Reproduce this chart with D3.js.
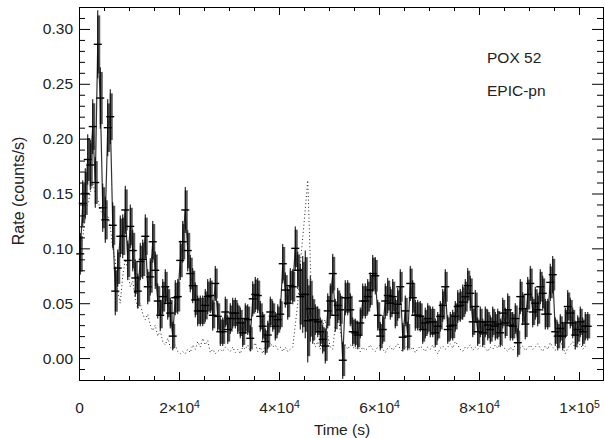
<!DOCTYPE html>
<html><head><meta charset="utf-8">
<script src="https://cdn.jsdelivr.net/npm/d3@7"></script>
<style>
html,body{margin:0;padding:0;background:#fff;}
svg{display:block;}
text{font-family:"Liberation Sans",Arial,Helvetica,sans-serif;fill:#222;}
</style></head><body>
<svg id="chart" width="605" height="438"></svg>
<script>
// ---- data ----
const binStart = 250, binSize = 500;   // time bins (s)
const rate = [
0.095,0.141,0.150,0.181,0.176,0.211,0.160,0.286,0.237,0.137,
0.126,0.210,0.220,0.121,0.061,0.082,0.111,0.111,0.135,0.089,
0.120,0.098,0.073,0.061,0.088,0.090,0.111,0.065,0.074,0.106,
0.080,0.052,0.039,0.056,0.065,0.050,0.041,0.020,0.055,0.056,
0.089,0.106,0.135,0.098,0.077,0.066,0.053,0.043,0.043,0.043,
0.048,0.056,0.057,0.039,0.068,0.038,0.024,0.024,0.042,0.026,
0.036,0.041,0.041,0.036,0.032,0.023,0.036,0.035,0.018,0.054,
0.058,0.057,0.038,0.029,0.015,0.021,0.042,0.038,0.029,0.035,
0.040,0.086,0.062,0.050,0.066,0.065,0.100,0.080,0.056,0.058,
0.058,0.034,0.045,0.035,0.035,0.033,0.024,0.017,0.011,0.043,
0.052,0.077,0.039,0.048,0.044,-0.002,0.055,0.055,0.044,0.024,
0.023,0.021,0.032,0.052,0.052,0.056,0.062,0.077,0.075,0.039,
0.020,0.026,0.052,0.057,0.050,0.056,0.041,0.049,0.065,0.019,
0.043,0.020,0.068,0.055,0.039,0.039,0.038,0.026,0.032,0.036,
0.033,0.033,0.023,0.029,0.038,0.048,0.065,0.026,0.029,0.030,
0.038,0.047,0.048,0.051,0.056,0.066,0.059,0.033,0.047,0.024,
0.033,0.023,0.033,0.030,0.026,0.033,0.029,0.031,0.023,0.041,
0.032,0.044,0.030,0.029,0.036,0.014,0.056,0.045,0.031,0.058,
0.068,0.042,0.050,0.044,0.065,0.059,0.040,0.040,0.069,0.076,
0.024,0.020,0.027,0.020,0.032,0.047,0.041,0.032,0.021,0.026,
0.033,0.024,0.029,0.029];
const rateErr = [
0.019,0.021,0.023,0.023,0.023,0.025,0.023,0.031,0.028,0.022,
0.021,0.026,0.025,0.021,0.022,0.017,0.019,0.020,0.022,0.018,
0.020,0.019,0.017,0.016,0.017,0.018,0.020,0.016,0.017,0.019,
0.017,0.016,0.014,0.016,0.016,0.015,0.014,0.013,0.016,0.016,
0.018,0.019,0.021,0.019,0.017,0.016,0.016,0.014,0.014,0.014,
0.015,0.016,0.016,0.014,0.016,0.014,0.013,0.013,0.014,0.013,
0.014,0.014,0.014,0.014,0.014,0.013,0.014,0.014,0.012,0.016,
0.016,0.016,0.014,0.013,0.012,0.013,0.014,0.014,0.013,0.014,
0.014,0.018,0.016,0.015,0.016,0.016,0.020,0.017,0.030,0.035,
0.040,0.038,0.030,0.022,0.014,0.014,0.013,0.013,0.016,0.016,
0.016,0.018,0.015,0.016,0.015,0.017,0.016,0.016,0.015,0.013,
0.013,0.013,0.014,0.016,0.016,0.016,0.016,0.017,0.017,0.014,
0.013,0.013,0.016,0.016,0.015,0.016,0.014,0.015,0.016,0.013,
0.014,0.013,0.016,0.016,0.014,0.014,0.014,0.013,0.014,0.014,
0.014,0.014,0.013,0.013,0.014,0.015,0.016,0.013,0.013,0.014,
0.014,0.015,0.015,0.016,0.016,0.016,0.016,0.014,0.015,0.013,
0.014,0.013,0.014,0.014,0.013,0.014,0.013,0.014,0.013,0.014,
0.014,0.015,0.014,0.013,0.014,0.013,0.016,0.015,0.014,0.016,
0.016,0.014,0.015,0.015,0.016,0.016,0.014,0.014,0.017,0.017,
0.013,0.013,0.013,0.013,0.014,0.015,0.014,0.014,0.013,0.013,
0.014,0.013,0.013,0.013];
const background = [
0.090,0.110,0.130,0.140,0.150,0.160,0.150,0.145,0.135,0.130,
0.125,0.130,0.120,0.100,0.090,0.060,0.050,0.075,0.090,0.080,
0.065,0.070,0.055,0.045,0.050,0.040,0.035,0.040,0.030,0.025,
0.030,0.020,0.025,0.015,0.012,0.018,0.010,0.008,0.012,0.006,
0.004,0.006,0.004,0.008,0.005,0.012,0.008,0.015,0.010,0.018,
0.012,0.016,0.005,0.008,0.004,0.006,0.008,0.006,0.010,0.008,
0.006,0.010,0.005,0.008,0.004,0.010,0.008,0.012,0.006,0.010,
0.014,0.006,0.010,0.004,0.012,0.008,0.014,0.010,0.012,0.008,
0.010,0.006,0.010,0.006,0.008,0.010,0.030,0.050,0.085,0.110,
0.135,0.162,0.090,0.020,0.010,0.015,0.008,0.030,0.035,0.020,
0.010,0.008,0.030,0.040,0.025,0.010,0.012,0.008,0.012,0.010,
0.008,0.012,0.006,0.010,0.007,0.009,0.012,0.008,0.006,0.010,
0.012,0.008,0.005,0.009,0.011,0.007,0.010,0.013,0.008,0.006,
0.009,0.012,0.007,0.010,0.005,0.008,0.011,0.009,0.006,0.010,
0.008,0.012,0.007,0.004,0.009,0.011,0.008,0.010,0.013,0.009,
0.015,0.012,0.008,0.006,0.010,0.009,0.012,0.007,0.010,0.008,
0.011,0.013,0.009,0.006,0.010,0.008,0.012,0.009,0.014,0.011,
0.008,0.006,0.010,0.007,0.012,0.016,0.009,0.011,0.007,0.009,
0.012,0.008,0.010,0.013,0.009,0.006,0.011,0.008,0.014,0.010,
0.007,0.012,0.016,0.010,0.004,0.009,0.012,0.015,0.008,0.010,
0.013,0.008,0.011,0.009];
const xMajorTicks = [0, 20000, 40000, 60000, 80000, 100000];
const xTickLabels = [["0",""],["2×10","4"],["4×10","4"],["6×10","4"],["8×10","4"],["1×10","5"]];
const yMajorTicks = [0, 0.05, 0.10, 0.15, 0.20, 0.25, 0.30];
const yTickLabels = ["0.00","0.05","0.10","0.15","0.20","0.25","0.30"];
const xLabel = "Time (s)";
const yLabel = "Rate (counts/s)";
const annotations = ["POX 52", "EPIC-pn"];

// ---- layout ----
const L = 79, R = 603, T = 7, B = 380;
const svg = d3.select("#chart");
const x = d3.scaleLinear().domain([0, 104800]).range([L, R]);
const y = d3.scaleLinear().domain([-0.02, 0.32]).range([B, T]);

const pts = rate.map((r, i) => ({t: binStart + i * binSize, r, e: rateErr[i], b: background[i]}));

// background (dotted)
svg.append("path")
  .datum(pts)
  .attr("fill", "none")
  .attr("stroke", "#222")
  .attr("stroke-width", 1)
  .attr("stroke-dasharray", "1,2.6")
  .attr("d", d3.line().x(d => x(d.t)).y(d => y(d.b)));

// gray thick error bars
svg.append("g").selectAll("line").data(pts).join("line")
  .attr("x1", d => x(d.t) + 1).attr("x2", d => x(d.t) + 1)
  .attr("y1", d => y(d.r - d.e * 0.85)).attr("y2", d => y(d.r + d.e * 0.85))
  .attr("stroke", "#555").attr("stroke-width", 3);

// connecting line
svg.append("path")
  .datum(pts)
  .attr("fill", "none")
  .attr("stroke", "#333")
  .attr("stroke-width", 1.2)
  .attr("d", d3.line().x(d => x(d.t)).y(d => y(d.r)));

// black error bars
svg.append("g").selectAll("line").data(pts).join("line")
  .attr("x1", d => x(d.t)).attr("x2", d => x(d.t))
  .attr("y1", d => y(d.r - d.e)).attr("y2", d => y(d.r + d.e))
  .attr("stroke", "#000").attr("stroke-width", 1);

// horizontal bars (crosses)
svg.append("g").selectAll("line").data(pts).join("line")
  .attr("x1", d => x(d.t) - 4).attr("x2", d => x(d.t) + 4)
  .attr("y1", d => y(d.r)).attr("y2", d => y(d.r))
  .attr("stroke", "#000").attr("stroke-width", 1.4);

// clip overflow above frame
svg.append("rect").attr("x", 0).attr("y", 0).attr("width", 605).attr("height", T).attr("fill", "#fff");

// ---- axes ----
const xMinor = d3.range(5000, 104800, 5000).filter(v => v % 20000 !== 0);
const yMinor = d3.range(-0.01, 0.315, 0.01).map(v => +v.toFixed(2)).filter(v => Math.round(v * 100) % 5 !== 0);

function styleAxis(g) {
  g.select(".domain").attr("stroke", "#000").attr("stroke-width", 1);
  g.selectAll(".tick line").attr("stroke", "#000").attr("stroke-width", 1);
}

// bottom
const gB = svg.append("g").attr("transform", `translate(0,${B})`)
  .call(d3.axisBottom(x).tickValues(xMajorTicks).tickSizeInner(-8).tickSizeOuter(0).tickPadding(22).tickFormat(() => ""));
styleAxis(gB);
gB.selectAll(".tick text").each(function(d, i) {
  const t = d3.select(this).attr("font-size", 15.5).attr("fill", "#222").attr("dy", "0.71em");
  const lab = xTickLabels[i];
  t.append("tspan").text(lab[0]);
  if (lab[1]) t.append("tspan").attr("dy", "-0.45em").attr("font-size", 10.5).text(lab[1]);
});
svg.append("g").attr("transform", `translate(0,${B})`)
  .call(d3.axisBottom(x).tickValues(xMinor).tickSize(-4).tickFormat("")).call(styleAxis);

// top
svg.append("g").attr("transform", `translate(0,${T})`)
  .call(d3.axisTop(x).tickValues(xMajorTicks).tickSizeInner(-8).tickSizeOuter(0).tickFormat("")).call(styleAxis);
svg.append("g").attr("transform", `translate(0,${T})`)
  .call(d3.axisTop(x).tickValues(xMinor).tickSize(-4).tickFormat("")).call(styleAxis);

// left
const gL = svg.append("g").attr("transform", `translate(${L},0)`)
  .call(d3.axisLeft(y).tickValues(yMajorTicks).tickSizeInner(-11).tickSizeOuter(0).tickPadding(6).tickFormat((d, i) => yTickLabels[i]));
styleAxis(gL);
gL.selectAll(".tick text").attr("font-size", 15.5).attr("fill", "#222");
svg.append("g").attr("transform", `translate(${L},0)`)
  .call(d3.axisLeft(y).tickValues(yMinor).tickSize(-6).tickFormat("")).call(styleAxis);

// right
svg.append("g").attr("transform", `translate(${R},0)`)
  .call(d3.axisRight(y).tickValues(yMajorTicks).tickSizeInner(-11).tickSizeOuter(0).tickFormat("")).call(styleAxis);
svg.append("g").attr("transform", `translate(${R},0)`)
  .call(d3.axisRight(y).tickValues(yMinor).tickSize(-6).tickFormat("")).call(styleAxis);

// axis titles
svg.append("text").attr("x", (L + R) / 2 + 1).attr("y", 435).attr("text-anchor", "middle")
  .attr("font-size", 15.5).text(xLabel);
svg.append("text").attr("transform", "translate(24,191) rotate(-90)").attr("text-anchor", "middle")
  .attr("font-size", 16).text(yLabel);

// annotations
svg.append("text").attr("x", 487).attr("y", 63).attr("font-size", 15.5).text(annotations[0]);
svg.append("text").attr("x", 487).attr("y", 96).attr("font-size", 15.5).text(annotations[1]);
</script>
</body></html>
